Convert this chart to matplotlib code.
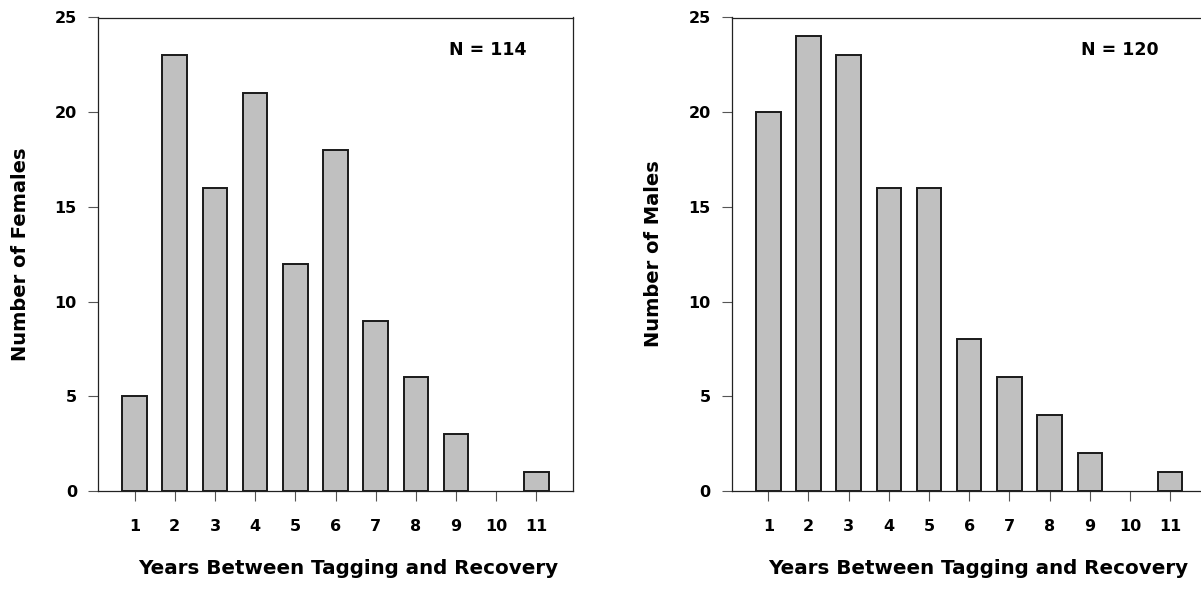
import matplotlib.pyplot as plt
import numpy as np

# datos
years = [1, 2, 3, 4, 5, 6, 7, 8, 9, 10, 11]
females = [5, 23, 16, 21, 12, 18, 9, 6, 3, 0, 1]
males = [20, 24, 23, 16, 16, 8, 6, 4, 2, 0, 1]
y_ticks = [0, 5, 10, 15, 20, 25]
x_label = 'Years Between Tagging and Recovery'

plt.rcParams['font.family'] = ['DejaVu Sans']
plt.rcParams['font.weight'] = 'bold'

W, H = 1201, 590
fig = plt.figure(figsize=(W / 100, H / 100), dpi=100)


def px_ax(x0, y0, w, h):
    return fig.add_axes([x0 / W, 1 - (y0 + h) / H, w / W, h / H])


def fig_text(x, y, s, **kw):
    # coordenadas en pixeles desde la esquina superior izquierda
    return fig.text(x / W, 1 - y / H, s, fontweight='bold', **kw)


def panel(ax, counts, n_text, n_x, ylab, ylab_x, xlab_x):
    # sin borde para las barras vacias (quedan sobre el eje)
    lw = [1.4 if c > 0 else 0 for c in counts]
    ax.bar(years, counts, width=0.61, color='#c0c0c0', edgecolor='#1a1a1a',
           linewidth=lw, zorder=2)
    ax.set_xlim(0.09, 11.91)
    ax.set_ylim(0, 25)
    ax.set_xticks(years)
    ax.set_yticks(y_ticks)
    ax.tick_params(axis='both', direction='out', length=7.2, width=0.8,
                   color='#555555', labelsize=11.5)
    ax.tick_params(axis='y', pad=8)
    ax.tick_params(axis='x', pad=13)
    for s in ax.spines.values():
        s.set_linewidth(0.9)
        s.set_color('#222222')
        s.set_zorder(3)
    for lab in ax.get_xticklabels() + ax.get_yticklabels():
        lab.set_fontweight('bold')
    fig_text(n_x, 50, n_text, fontsize=12.5, ha='center', va='center')
    fig_text(ylab_x, 254, ylab, rotation=90, ha='center', va='center',
             fontsize=14)
    fig_text(xlab_x, 568, x_label, ha='center', va='center', fontsize=14.3)


ax1 = px_ax(98, 17.5, 475, 473.5)
ax2 = px_ax(731.7, 17.5, 475, 473.5)

panel(ax1, females, 'N = 114', 487.5, 'Number of Females', 21, 348)
panel(ax2, males, 'N = 120', 1119.5, 'Number of Males', 653.5, 978)

fig.savefig('out.png', dpi=100)
